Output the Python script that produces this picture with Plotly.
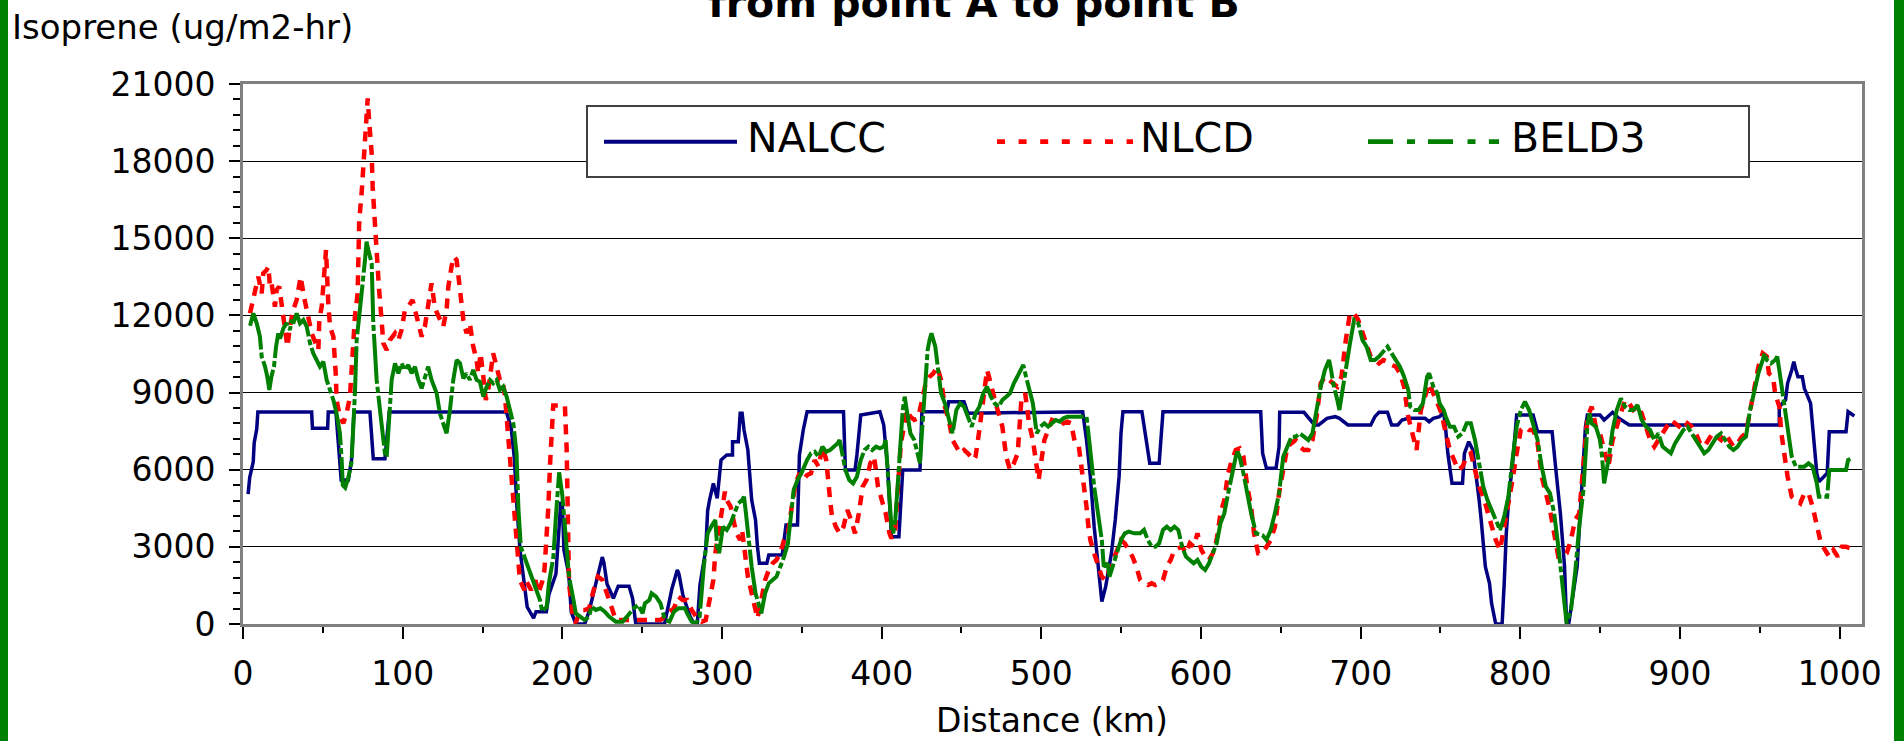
import plotly.graph_objects as go

# ---------------- data ----------------
nalcc_km = [3.2, 4.2, 6.4, 7, 8.6, 9.3, 43, 43.5, 53, 53.4, 58.2, 59.5, 60.7, 61.5, 66, 68, 69.5, 79.5, 81.6, 88.9,
            90.5, 91.6, 165, 168, 170, 171.5, 173.5, 178, 182, 183.5, 190, 191.6, 196, 197.5, 199, 200, 201, 204,
            205.6, 208.5, 214, 216.8, 221, 223.8, 225, 226, 228, 232, 235, 241.8, 244, 246, 264, 268.6, 271, 272,
            273, 275.6, 280, 282.6, 284.5, 286.2, 289.8, 291, 292.2, 294.6, 297, 299.4, 303, 306.6, 306.6, 310.2,
            311.4, 312.6, 313.8, 316.2, 318.6, 321, 322.2, 323.4, 328.1, 329.3, 337.7, 340.1, 347.3, 348.5, 350.9,
            353.3, 376.1, 377.3, 383.3, 384.5, 386.9, 398.9, 401.3, 403.7, 406.1, 410.8, 413.2, 424, 425.2, 440.8,
            442, 451.6, 454, 525.9, 528.3, 530.7, 533.1, 535.5, 537.9, 540.3, 543.9, 546.3, 548.7, 549.9, 551.1,
            563, 565.5, 567.9, 573.8, 576.2, 637.4, 638.6, 641, 647, 648.9, 649.3, 664.5, 671.1, 673.7, 678.9,
            684.1, 686.7, 692, 706.3, 708.9, 711.5, 716.8, 719.4, 723.3, 725.9, 729.8, 740.3, 742.9, 745.5, 749.4,
            752, 753.3, 754.6, 757.2, 763.8, 765, 767.7, 770.3, 772.9, 774.2, 775.5, 778.1, 780.7, 782, 784.6,
            788.6, 789.9, 791.2, 793, 795, 797.7, 808, 810.8, 819.9, 822.5, 825.1, 827.7, 829, 830.3, 835.6, 837,
            838.2, 839.5, 840.8, 842, 849.9, 852.5, 857.8, 861.7, 868.2, 962.2, 962.2, 966.1, 967.4, 970, 971.3,
            972.6, 973.9, 976.6, 977.9, 981.8, 984.4, 985.7, 987, 992.2, 993.5, 1004, 1005.3, 1009.2]
nalcc_val = [5050, 5700, 6300, 7040, 7580, 8245, 8245, 7610, 7610, 8245, 8245, 7100, 6000, 5600, 5600, 6400, 8245,
             8245, 6430, 6430, 7500, 8245, 8245, 7610, 6400, 4600, 2878, 660, 230, 480, 480, 1150, 1950, 3300, 4700,
             4700, 2880, 1950, 460, 0, 0, 500, 1560, 2400, 2600, 2400, 1560, 1000, 1470, 1470, 1000, 0, 0, 1360,
             1950, 2100, 1950, 1100, 300, 0, 0, 1517, 2878, 4400, 4822, 5470, 4887, 6377, 6572, 6572, 7090, 7090,
             8192, 8192, 7544, 6766, 4822, 4044, 3008, 2359, 2359, 2683, 2683, 3850, 3850, 6572, 7544, 8257, 8257,
             5988, 5988, 6572, 8127, 8257, 7740, 6118, 3397, 3397, 5988, 5988, 8257, 8257, 8647, 8647, 8192, 8257,
             7155, 5729, 3786, 2230, 869, 1452, 2748, 4044, 5729, 7414, 8257, 8257, 7285, 6247, 6247, 8257, 8257,
             6636, 6053, 6053, 6896, 8233, 8233, 7740, 7740, 7999, 8063, 7999, 7740, 7740, 8063, 8233, 8233, 7740,
             7740, 7934, 7999, 7999, 7869, 7999, 8063, 8233, 7544, 6636, 5470, 5470, 6636, 7090, 6766, 5599, 4822,
             4044, 2230, 1582, 804, 0, 0, 1582, 3526, 5081, 6118, 8127, 8127, 7479, 7479, 5859, 4303, 2230, 0, 0,
             2230, 3786, 5081, 6377, 7674, 8127, 8127, 7934, 8233, 7999, 7740, 7740, 8451, 8711, 9359, 9878, 10202,
             9878, 9618, 9618, 9164, 8581, 6896, 5859, 5535, 5859, 7479, 7479, 8257, 8089]

nlcd_km = [4.4, 5.5, 7.5, 9.6, 11.7, 12.7, 14.8, 15.9, 16.9, 17.9, 20, 21.1, 22.7, 25.3, 27.8, 29.4, 31.5, 33.6,
           36.1, 38.2, 40.5, 43, 47.2, 47.8, 49.3, 50.3, 51.3, 52, 53.4, 54.5, 56.6, 57.6, 58.2, 58.6, 60.7, 62.8,
           64.9, 67, 69.1, 70.1, 71.8, 72.2, 72.8, 74.3, 75.3, 76.4, 77.4, 78.1, 79.1, 80.6, 81.2, 82.6, 83.7,
           85.1, 86.8, 87.9, 90, 92, 93.7, 95.2, 97.3, 99.3, 101.4, 103.5, 106.2, 107.7, 109.8, 111.9, 113.9, 116,
           118.1, 120.2, 122.3, 125.4, 127.5, 128.6, 130.6, 132.1, 133.8, 134.8, 136.5, 138, 140, 142.1, 144.2,
           146.3, 147.3, 148.8, 150.5, 152.1, 153.6, 156.7, 158.8, 160.9, 162.6, 164.1, 165.1, 166.1, 167.2, 169,
           170.5, 172, 173.4, 176.2, 177.6, 180.4, 183.2, 185, 187.4, 188.8, 190, 191.2, 192.3, 193.3, 194.3,
           201.6, 202.7, 203.5, 204.2, 205.6, 207, 208.4, 211.2, 214, 216.8, 219.6, 222.3, 225.1, 227.9, 229.3,
           232.1, 233.5, 261.5, 264.3, 267.1, 269.9, 272.6, 275.4, 278.2, 281, 283.8, 287.4, 289.8, 292.2, 294.6,
           295.8, 299.4, 301.8, 303, 305.4, 309, 311.4, 312.6, 315, 316.2, 318.6, 321, 322.2, 324.6, 327, 329.3,
           331.7, 334.1, 336.5, 338.9, 341.3, 343.7, 346.1, 348.5, 350.9, 353.3, 355.7, 358.1, 360.5, 362.9,
           365.3, 367.7, 368.9, 371.3, 373.7, 376.1, 378.5, 380.9, 383.3, 385.7, 388.1, 390.5, 392.9, 395.3,
           396.5, 397.7, 400.1, 402.5, 404.9, 406.1, 408.5, 409.7, 410.8, 412, 414.4, 415.6, 418, 420.4, 422.8,
           425.2, 427.6, 430, 432.4, 434.8, 437.2, 439.6, 442, 444.4, 446.8, 449.2, 451.6, 454, 457.6, 458.8,
           461.2, 463.6, 466, 467.2, 469.6, 472, 475.6, 476.8, 478, 480.4, 482.8, 485.2, 487.5, 489.9, 491.1,
           492.3, 494.7, 497.1, 498.3, 499.5, 501.9, 504.3, 506.7, 509.1, 511.5, 513.9, 516.3, 518.7, 521.1,
           523.5, 524.7, 525.9, 527.1, 528.3, 529.5, 530.7, 533.1, 535.5, 537.9, 540.3, 542.7, 545.1, 547.5,
           549.9, 552.3, 554.7, 557.1, 559.5, 561.9, 564.3, 566.7, 569.1, 571.4, 573.8, 576.2, 578.6, 581, 583.4,
           585.8, 588.2, 590.6, 593, 595.4, 597.8, 600.2, 602.6, 605, 607.4, 609.8, 612.2, 614.6, 617, 619.4,
           621.8, 624.2, 626.6, 629, 631.4, 633.2, 635.8, 638.4, 641, 643.7, 646.3, 648.9, 651.5, 654.1, 656.7,
           659.3, 661.9, 664.5, 667.2, 669.8, 672.4, 675, 677.6, 680.2, 682.8, 685.4, 688, 689.4, 690.7, 693.3,
           695.9, 698.5, 701.1, 703.7, 706.3, 708.9, 711.5, 714.2, 716.8, 719.4, 722, 724.6, 727.2, 729.8, 732.4,
           735, 737.7, 740.3, 742.9, 745.5, 748.1, 750.7, 753.3, 755.9, 758.5, 761.1, 763.8, 766.4, 769, 771.6,
           774.2, 776.8, 779.4, 782, 784.6, 787.3, 789.9, 792.5, 795.1, 797.7, 800.3, 802.9, 805.5, 808.1, 810.8,
           813.4, 816, 818.6, 821.2, 823.8, 826.4, 829, 831.7, 834.3, 836.9, 838.2, 839.5, 842.1, 844.7, 847.3,
           849.9, 852.5, 855.2, 857.8, 860.4, 863, 865.6, 868.2, 870.8, 873.4, 876, 878.7, 881.3, 883.9, 886.5,
           889.1, 891.7, 894.3, 896.9, 899.5, 902.1, 904.7, 907.4, 910, 912.6, 915.2, 917.8, 920.4, 923, 925.7,
           928.3, 930.9, 933.5, 936.1, 938.7, 941.3, 943.9, 946.5, 949.1, 951.8, 954.4, 955.7, 958.3, 959.6,
           962.2, 963.5, 964.8, 966.1, 967.4, 970, 972.6, 975.3, 977.9, 980.5, 983.1, 985.7, 988.3, 990.9, 993.5,
           996.1, 998.8, 1001.4, 1004, 1006.6, 1009.2]
nlcd_val = [12082, 12400, 12860, 13508, 12860, 13638, 13767, 13897, 13119, 13249, 12341, 12990, 13119, 11823,
            10786, 11564, 12212, 12601, 13508, 12730, 12082, 11304, 10656, 11823, 12341, 13119, 14026, 14545,
            12471, 11564, 11175, 10397, 9620, 8712, 8063, 7804, 8193, 8841, 10786, 11953, 12860, 14285, 15712,
            16750, 17915, 18823, 19860, 20443, 19470, 18304, 17008, 15452, 14285, 13119, 11823, 10916, 10656,
            11045, 11175, 11304, 11045, 11434, 12212, 12341, 12601, 12212, 11564, 11175, 11564, 12341, 13249,
            12276, 11953, 11564, 12212, 13119, 13897, 14285, 14156, 13508, 12730, 11823, 11304, 11693, 10786,
            10267, 9749, 10527, 9620, 8712, 9100, 10527, 10008, 9490, 9490, 8841, 8063, 7286, 6378, 5000, 3800,
            2878, 1711, 1322, 1650, 1322, 1700, 1200, 1650, 2100, 3200, 4500, 6200, 7675, 8500, 8500, 6830, 4000,
            1582, 800, 156, 50, 545, 545, 610, 1322, 1840, 1711, 1193, 934, 286, 156, 156, 286, 480, 610, 1063,
            934, 934, 545, 286, 91, 150, 930, 1711, 2750, 4175, 5147, 4822, 4563, 3526, 3267, 3656, 2619, 1841,
            1193, 415, 220, 930, 1711, 2100, 2360, 2490, 2749, 3267, 3526, 4563, 5470, 5859, 5600, 5794, 5859,
            6377, 6118, 6896, 6377, 4822, 4174, 3785, 3526, 3785, 4433, 4044, 3526, 4303, 5340, 5600, 6247, 6507,
            5859, 5340, 4822, 4303, 3526, 3332, 3656, 4822, 5859, 7026, 7804, 8322, 8063, 7934, 7999, 8711, 9359,
            9618, 9748, 10008, 9489, 8452, 7934, 7155, 6896, 6636, 6766, 6636, 6377, 6507, 7544, 8711, 9878, 9618,
            8970, 8452, 7674, 7155, 6507, 5988, 6247, 6636, 8711, 8970, 8192, 7804, 7155, 6247, 5600, 6118, 7155,
            7544, 7934, 7869, 7934, 7804, 7869, 7804, 7026, 6896, 6377, 5859, 5081, 4563, 3785, 3267, 2749, 2230,
            1841, 1711, 2100, 2490, 2878, 3267, 3137, 2878, 2619, 2230, 1711, 1582, 1517, 1582, 1517, 1582, 1711,
            2230, 2490, 2878, 2943, 3008, 2749, 3137, 3008, 3526, 2878, 2619, 2490, 2749, 3267, 4303, 4822, 5859,
            6377, 6766, 6831, 6507, 5340, 4563, 3526, 2748, 2748, 3008, 3267, 3785, 5082, 5989, 6896, 7026, 7156,
            6896, 6766, 6766, 7156, 8063, 9359, 9618, 9489, 9359, 9230, 9618, 10526, 11044, 12082, 12082, 11822,
            11304, 10915, 10397, 10267, 10137, 10267, 10203, 10073, 10007, 9748, 9230, 8063, 7415, 6766, 8322,
            8841, 9359, 8970, 8581, 8193, 7415, 6766, 6378, 5989, 6119, 6507, 6637, 5989, 5341, 4952, 4433, 3785,
            3267, 2878, 3785, 4563, 5600, 6637, 7545, 7674, 7545, 7545, 7026, 5730, 5082, 4433, 3526, 2619, 2619,
            2748, 3267, 4045, 4304, 5341, 6378, 8063, 8452, 7674, 7415, 6766, 6119, 7156, 7674, 8322, 8711, 8581,
            8322, 8452, 8193, 7674, 7156, 6896, 7156, 7415, 7674, 7933, 7804, 7674, 7545, 7804, 7674, 7415, 7026,
            6896, 7156, 7415, 7285, 7156, 7415, 7156, 6896, 7026, 7285, 7415, 8322, 9230, 10007, 10526, 10400,
            9748, 9618, 8970, 8452, 7415, 6766, 6119, 5730, 4952, 4822, 4693, 5082, 5082, 4563, 3785, 3137, 2878,
            2619, 2878, 2619, 3008, 3008, 2943, 3008]

beld3_km = [4.4, 5.5, 6.5, 8.6, 10.6, 11.7, 13.8, 15.2, 16.5, 17.8, 19.4, 20.7, 22.1, 23.2, 25.3, 27.3, 29.4, 30.4,
            31.5, 33.6, 35.7, 37.8, 39.9, 42, 44, 46.1, 48.2, 50.3, 52.4, 54.5, 56.6, 58.6, 60.7, 61.8, 62.5, 64,
            66, 68, 69.1, 70.1, 71.2, 73.3, 74.3, 76.4, 77.4, 78.5, 80.6, 81.6, 82.6, 83.7, 85.8, 87.9, 88.9, 90,
            91, 93.1, 95.2, 97.3, 99.3, 101.4, 103.5, 105.6, 107.7, 109.8, 111.9, 113.9, 116, 118.1, 121.3, 123.3,
            126.5, 127.5, 129.6, 131.7, 133.8, 135.9, 138, 140, 142.1, 144.2, 146.3, 148.4, 150.5, 152.6, 154.7,
            156.7, 158.8, 160.9, 163, 165.1, 167.2, 169.3, 171.3, 172.5, 174, 177.6, 180.4, 183.2, 186, 187.4,
            190.2, 191.6, 194.4, 196, 198, 200, 201.5, 202.8, 204.2, 207, 208.4, 211.2, 214, 216.8, 218.2, 221,
            223.8, 226.6, 229.3, 233.5, 237.7, 240.5, 244.7, 247.5, 250.3, 251.7, 254.5, 255.9, 258.7, 261.5,
            264.3, 267.1, 269.9, 272.6, 276.8, 278.2, 281, 283.8, 286, 288.6, 291, 293.4, 295.8, 297, 298.2,
            300.6, 303, 305.4, 307.8, 310.2, 312.6, 313.8, 315, 316.2, 318.6, 321, 323.4, 324.6, 327, 329.3,
            331.7, 334.1, 336.5, 338.9, 341.3, 343.7, 344.9, 347.3, 349.7, 353.3, 355.7, 358.1, 360.5, 362.9,
            365.3, 367.7, 370.1, 372.5, 373.7, 375, 377.3, 379.7, 382.1, 384.5, 386.9, 389.3, 391.7, 394.1, 396.5,
            398.9, 401.3, 402.5, 403.7, 404.9, 406.1, 407.3, 408.5, 409.7, 410.8, 412, 413.2, 414.4, 415.6, 418,
            420.4, 422.8, 424, 425.2, 426.4, 427.6, 428.8, 430, 431.2, 433.6, 434.8, 437.2, 439.6, 442, 444.4,
            446.8, 449.2, 451.6, 454, 456.4, 458.8, 461.2, 463.6, 466, 468.4, 470.8, 473.2, 475.6, 478, 480.4,
            482.8, 485.2, 487.5, 488.7, 489.9, 492.3, 494.7, 497.1, 499.5, 501.9, 504.3, 506.7, 509.1, 511.5,
            513.9, 516.3, 528.3, 529.5, 530.7, 533.1, 535.5, 537.9, 539.1, 541.5, 542.7, 545.1, 547.5, 549.9,
            552.3, 554.7, 558.3, 561.9, 564.3, 566.7, 569.1, 571.4, 573.8, 576.2, 578.6, 581, 583.4, 585.8, 588.2,
            590.6, 593, 595.4, 597.8, 600.2, 602.6, 605, 607.4, 609.8, 612.2, 614.6, 617, 619.4, 621.8, 623,
            624.2, 626.6, 629, 631.4, 634.5, 638.6, 641, 643.7, 646.3, 648.9, 651.5, 654.1, 656.7, 659.3, 661.9,
            664.5, 667.2, 669.8, 672.4, 675, 677.6, 680.2, 681.5, 682.8, 685.4, 686.7, 688, 690.7, 693.3, 695.9,
            698.5, 701.1, 703.7, 706.3, 708.9, 711.5, 714.2, 716.8, 719.4, 722, 724.6, 727.2, 729.8, 731.1, 733.7,
            736.3, 739, 741.6, 742.9, 745.5, 748.1, 749.4, 752, 753.3, 755.9, 758.5, 761.1, 763.8, 766.4, 769,
            771.6, 774.2, 776.8, 779.4, 782, 784.6, 787.3, 789.9, 792.5, 795.1, 797.7, 800.3, 802.9, 805.5, 808.1,
            810.8, 813.4, 816, 818.6, 821.2, 823.8, 826.4, 829, 831.7, 834.3, 836.9, 839.5, 842.1, 843.4, 844.7,
            847.3, 849.9, 851.2, 852.5, 855.2, 857.8, 860.4, 863, 865.6, 868.2, 870.8, 873.4, 876, 878.7, 881.3,
            883.9, 886.5, 889.1, 891.7, 894.3, 896.9, 899.5, 902.1, 904.7, 907.4, 910, 912.6, 915.2, 917.8, 920.4,
            923, 925.7, 928.3, 930.9, 933.5, 936.1, 938.7, 941.3, 943.9, 946.5, 949.1, 951.8, 953, 954.4, 957,
            959.6, 960.9, 962.2, 964.8, 967.4, 970, 972.6, 977.9, 980.5, 983.1, 985.7, 987, 992.2, 993.5, 1004,
            1005.3, 1007.9]
beld3_val = [11600, 11900, 12082, 11693, 11175, 10397, 10008, 9620, 9100, 9620, 10008, 10786, 11304, 11100, 11500,
             11700, 11434, 11823, 11693, 12082, 11693, 11823, 11564, 10916, 10527, 10267, 10008, 10200, 9490, 9100,
             8712, 8193, 7415, 6378, 5400, 5300, 5700, 6300, 7415, 8971, 11045, 12082, 12860, 14156, 14869, 14545,
             14026, 11693, 10527, 9490, 8323, 7026, 6637, 6500, 7675, 9490, 10138, 9749, 10138, 9878, 10073, 9749,
             10008, 9490, 9165, 9620, 10008, 9490, 8971, 8193, 7545, 7415, 8323, 9490, 10267, 10138, 9555, 9749,
             9490, 9878, 9490, 9420, 8841, 9230, 9490, 9360, 9490, 9100, 9230, 8841, 8323, 7804, 6637, 4500, 3000,
             2360, 1970, 1452, 934, 480, 674, 1582, 2620, 4200, 5900, 5000, 3800, 2750, 1840, 934, 415, 286, 156,
             286, 674, 545, 610, 480, 286, 91, 91, 286, 610, 740, 415, 800, 934, 1193, 1063, 800, 156, 91, 480, 610,
             610, 415, 91, 26, 286, 2230, 3526, 3800, 4044, 3008, 2749, 3785, 3656, 3915, 4303, 4692, 4822, 4952,
             4303, 3526, 2230, 1193, 674, 415, 1193, 1582, 1711, 1841, 2230, 2619, 3137, 4563, 5211, 5600, 5859,
             6377, 6636, 6701, 6507, 6896, 6701, 6766, 6896, 7026, 7155, 6766, 5988, 5600, 5470, 5729, 6377, 6766,
             6896, 6766, 6896, 6831, 6896, 7155, 6118, 4822, 3785, 3526, 4044, 5081, 6118, 7414, 8322, 8841, 8322,
             7414, 7155, 6636, 6247, 7414, 8711, 10008, 10656, 11045, 11304, 10786, 10267, 8970, 8581, 8063, 7414,
             8322, 8581, 8452, 8063, 7674, 8192, 8452, 8970, 9229, 8841, 8581, 8452, 8711, 8841, 8970, 9359, 9618,
             9878, 10073, 9748, 9229, 8581, 7414, 7674, 7804, 7674, 7804, 7934, 7870, 7999, 8063, 8063, 7414, 6636,
             5340, 4303, 3267, 2230, 2360, 1841, 2360, 2749, 3267, 3526, 3591, 3526, 3526, 3656, 3267, 3008, 3008,
             3137, 3656, 3785, 3656, 3785, 3656, 3008, 2619, 2490, 2360, 2490, 2230, 2100, 2360, 2749, 3137, 3915,
             4303, 5081, 5859, 6507, 6701, 6507, 5859, 5081, 4303, 3526, 3450, 3267, 3656, 4304, 5082, 6507, 6896,
             7285, 7285, 7415, 7285, 7156, 7415, 8322, 9230, 9878, 10267, 9878, 9359, 8711, 8322, 8841, 10007,
             10915, 11822, 11693, 11044, 10785, 10267, 10267, 10397, 10590, 10785, 10526, 10267, 10007, 9618, 9100,
             8452, 8322, 8322, 8581, 9618, 9748, 9230, 8970, 8581, 8322, 8063, 7674, 7674, 7285, 7415, 7804, 7804,
             7156, 6248, 5341, 4822, 4433, 4045, 3655, 4174, 4952, 6378, 7674, 8322, 8646, 8322, 7804, 7156, 6119,
             5341, 5082, 4304, 3008, 1582, 26, 544, 1971, 3785, 5211, 7804, 8193, 7804, 7674, 7156, 6507, 5470,
             6378, 7545, 8322, 8776, 8452, 8322, 8322, 8517, 7933, 7674, 7545, 7156, 7415, 6896, 6766, 6637, 7026,
             7285, 7545, 7674, 7415, 7156, 6896, 6637, 6766, 7026, 7285, 7415, 7156, 6896, 6766, 6896, 7156, 7285,
             8322, 9100, 9748, 10267, 10526, 10267, 10137, 10267, 10397, 9878, 8711, 7415, 6507, 6119, 6119, 6248,
             6119, 5470, 4952, 4952, 5989, 5989, 6378, 6443]

series_names = ["NALCC", "NLCD", "BELD3"]
series_colors = ["#000080", "#FF0000", "#008000"]
y_tick_vals = [0, 3000, 6000, 9000, 12000, 15000, 18000, 21000]
y_tick_text = ["0", "3000", "6000", "9000", "12000", "15000", "18000", "21000"]
x_tick_vals = [0, 100, 200, 300, 400, 500, 600, 700, 800, 900, 1000]
x_tick_text = ["0", "100", "200", "300", "400", "500", "600", "700", "800", "900", "1000"]
title_text = "from point A to point B"
y_title = "Isoprene (ug/m2-hr)"
x_title = "Distance (km)"

# ---------------- layout geometry (pixels) ----------------
W, H = 1904, 741
L, R, T, B = 243, 1862, 84, 624
FONT = "DejaVu Sans"


def xp(px):
    return (px - L) / (R - L)


def yp(py):
    return (B - py) / (B - T)


fig = go.Figure()
fig.add_trace(go.Scatter(x=nalcc_km, y=nalcc_val, mode="lines", name=series_names[0],
                         line=dict(color=series_colors[0], width=3.5), showlegend=False))
fig.add_trace(go.Scatter(x=nlcd_km, y=nlcd_val, mode="lines", name=series_names[1],
                         line=dict(color=series_colors[1], width=4.5, dash="10px,8px"), showlegend=False))
fig.add_trace(go.Scatter(x=beld3_km, y=beld3_val, mode="lines", name=series_names[2],
                         line=dict(color=series_colors[2], width=4, dash="50px,3px,6px,3px"), showlegend=False))

shapes = []
# green side bars of the picture frame
for a, b in [(0, 8), (1894, 1904)]:
    shapes.append(dict(type="rect", xref="paper", yref="paper", x0=xp(a), x1=xp(b), y0=yp(H), y1=yp(0),
                       fillcolor="#008000", line=dict(width=0), layer="above"))
# legend box
shapes.append(dict(type="rect", xref="paper", yref="paper", x0=xp(587), x1=xp(1749), y0=yp(177), y1=yp(106),
                   fillcolor="white", line=dict(color="#404040", width=2), layer="above"))
ly = yp(141.7)
shapes.append(dict(type="line", xref="paper", yref="paper", x0=xp(604), x1=xp(737), y0=ly, y1=ly,
                   line=dict(color=series_colors[0], width=4), layer="above"))
shapes.append(dict(type="line", xref="paper", yref="paper", x0=xp(997), x1=xp(1133), y0=ly, y1=ly,
                   line=dict(color=series_colors[1], width=4.7, dash="8px,13.6px"), layer="above"))
shapes.append(dict(type="line", xref="paper", yref="paper", x0=xp(1368), x1=xp(1499), y0=ly, y1=ly,
                   line=dict(color=series_colors[2], width=4.7,
                             dash="25px,14px,8px,13px,25px,14.5px,8px,13.4px,10.3px,40px"), layer="above"))

annotations = []
for name, xpx in zip(series_names, [745, 1138, 1509]):
    annotations.append(dict(text=name, xref="paper", yref="paper", x=xp(xpx), y=yp(137.5),
                            xanchor="left", yanchor="middle", showarrow=False,
                            font=dict(family=FONT, size=41, color="black")))
annotations.append(dict(text="<b>" + title_text + "</b>", xref="paper", yref="paper", x=xp(973.5), y=yp(3.5),
                        xanchor="center", yanchor="middle", showarrow=False,
                        font=dict(family=FONT, size=41, color="black")))
annotations.append(dict(text=y_title, xref="paper", yref="paper", x=xp(10), y=yp(27),
                        xanchor="left", yanchor="middle", showarrow=False,
                        font=dict(family=FONT, size=34, color="black")))
annotations.append(dict(text=x_title, xref="paper", yref="paper", x=xp(1052), y=yp(720),
                        xanchor="center", yanchor="middle", showarrow=False,
                        font=dict(family=FONT, size=33, color="black")))

fig.update_layout(
    width=W, height=H,
    margin=dict(l=L, r=W - R, t=T, b=H - B, pad=0),
    paper_bgcolor="white", plot_bgcolor="white",
    font=dict(family=FONT, size=33, color="black"),
    shapes=shapes, annotations=annotations, showlegend=False,
)
fig.update_xaxes(range=[0, 1014], tickvals=x_tick_vals, ticktext=x_tick_text, showgrid=False, zeroline=False,
                 showline=True, linecolor="#808080", linewidth=3, mirror=True,
                 ticks="outside", ticklen=12, tickwidth=1.5, tickcolor="black", ticklabelstandoff=6,
                 tickfont=dict(family=FONT, size=33, color="black"),
                 minor=dict(dtick=50, tick0=0, ticks="outside", ticklen=6, tickwidth=1.5, tickcolor="black",
                            showgrid=False))
fig.update_yaxes(range=[0, 21000], tickvals=y_tick_vals, ticktext=y_tick_text, showgrid=True, gridcolor="black",
                 gridwidth=1, zeroline=False, showline=True, linecolor="#808080", linewidth=3, mirror=True,
                 ticks="outside", ticklen=11, tickwidth=1.5, tickcolor="black", ticklabelstandoff=7,
                 tickfont=dict(family=FONT, size=33, color="black"),
                 minor=dict(dtick=600, tick0=0, ticks="outside", ticklen=7, tickwidth=1.5, tickcolor="black",
                            showgrid=False))

fig.write_html("out.html", config={"displayModeBar": False},
               post_script="document.body.style.margin='0';document.body.style.overflow='hidden';")
